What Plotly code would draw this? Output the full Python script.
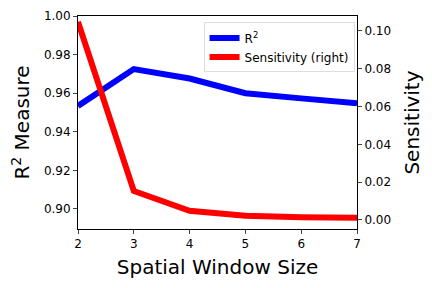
import plotly.graph_objects as go

window_sizes = [2, 3, 4, 5, 6, 7]
r2_values = [0.9534, 0.9725, 0.9676, 0.9600, 0.9573, 0.9548]
sensitivity_values = [0.1048, 0.0153, 0.0048, 0.0022, 0.0014, 0.0011]

fig = go.Figure()
fig.add_trace(go.Scatter(x=window_sizes, y=r2_values, mode="lines",
                         line=dict(color="#0000ff", width=6), name="R<sup>2</sup>"))
fig.add_trace(go.Scatter(x=window_sizes, y=sensitivity_values, mode="lines",
                         line=dict(color="#ff0000", width=6), name="Sensitivity (right)",
                         yaxis="y2"))

font = "DejaVu Sans, sans-serif"
fig.update_layout(
    width=432, height=288,
    margin=dict(l=78, r=75, t=16, b=59),
    paper_bgcolor="white", plot_bgcolor="white",
    font=dict(family=font, color="black", size=12),
    xaxis=dict(range=[2, 7], tickvals=window_sizes, ticks="outside", ticklen=4,
               showline=True, linecolor="black", linewidth=1, mirror=True,
               showgrid=False, zeroline=False, automargin=False,
               title=dict(text="Spatial Window Size", font=dict(size=20), standoff=9)),
    yaxis=dict(range=[0.8896, 1.0], tickvals=[0.90, 0.92, 0.94, 0.96, 0.98, 1.00],
               tickformat=".2f", ticks="outside", ticklen=4,
               showline=True, linecolor="black", linewidth=1,
               showgrid=False, zeroline=False, automargin=False,
               title=dict(text="R<sup>2</sup> Measure", font=dict(size=20), standoff=8)),
    yaxis2=dict(range=[-0.0048, 0.1079], tickvals=[0.0, 0.02, 0.04, 0.06, 0.08, 0.10],
                tickformat=".2f", ticks="outside", ticklen=4, overlaying="y", side="right",
                showline=True, linecolor="black", linewidth=1,
                showgrid=False, zeroline=False, automargin=False,
                title=dict(text="Sensitivity", font=dict(size=20), standoff=14)),
    legend=dict(x=0.45, y=0.97, xanchor="left", yanchor="top",
                bgcolor="rgba(255,255,255,0.8)", bordercolor="#dddddd", borderwidth=1,
                font=dict(size=12), tracegroupgap=0),
    showlegend=True,
)

fig.write_html("out.html", config={"displayModeBar": False},
               post_script="document.body.style.margin='0';")
